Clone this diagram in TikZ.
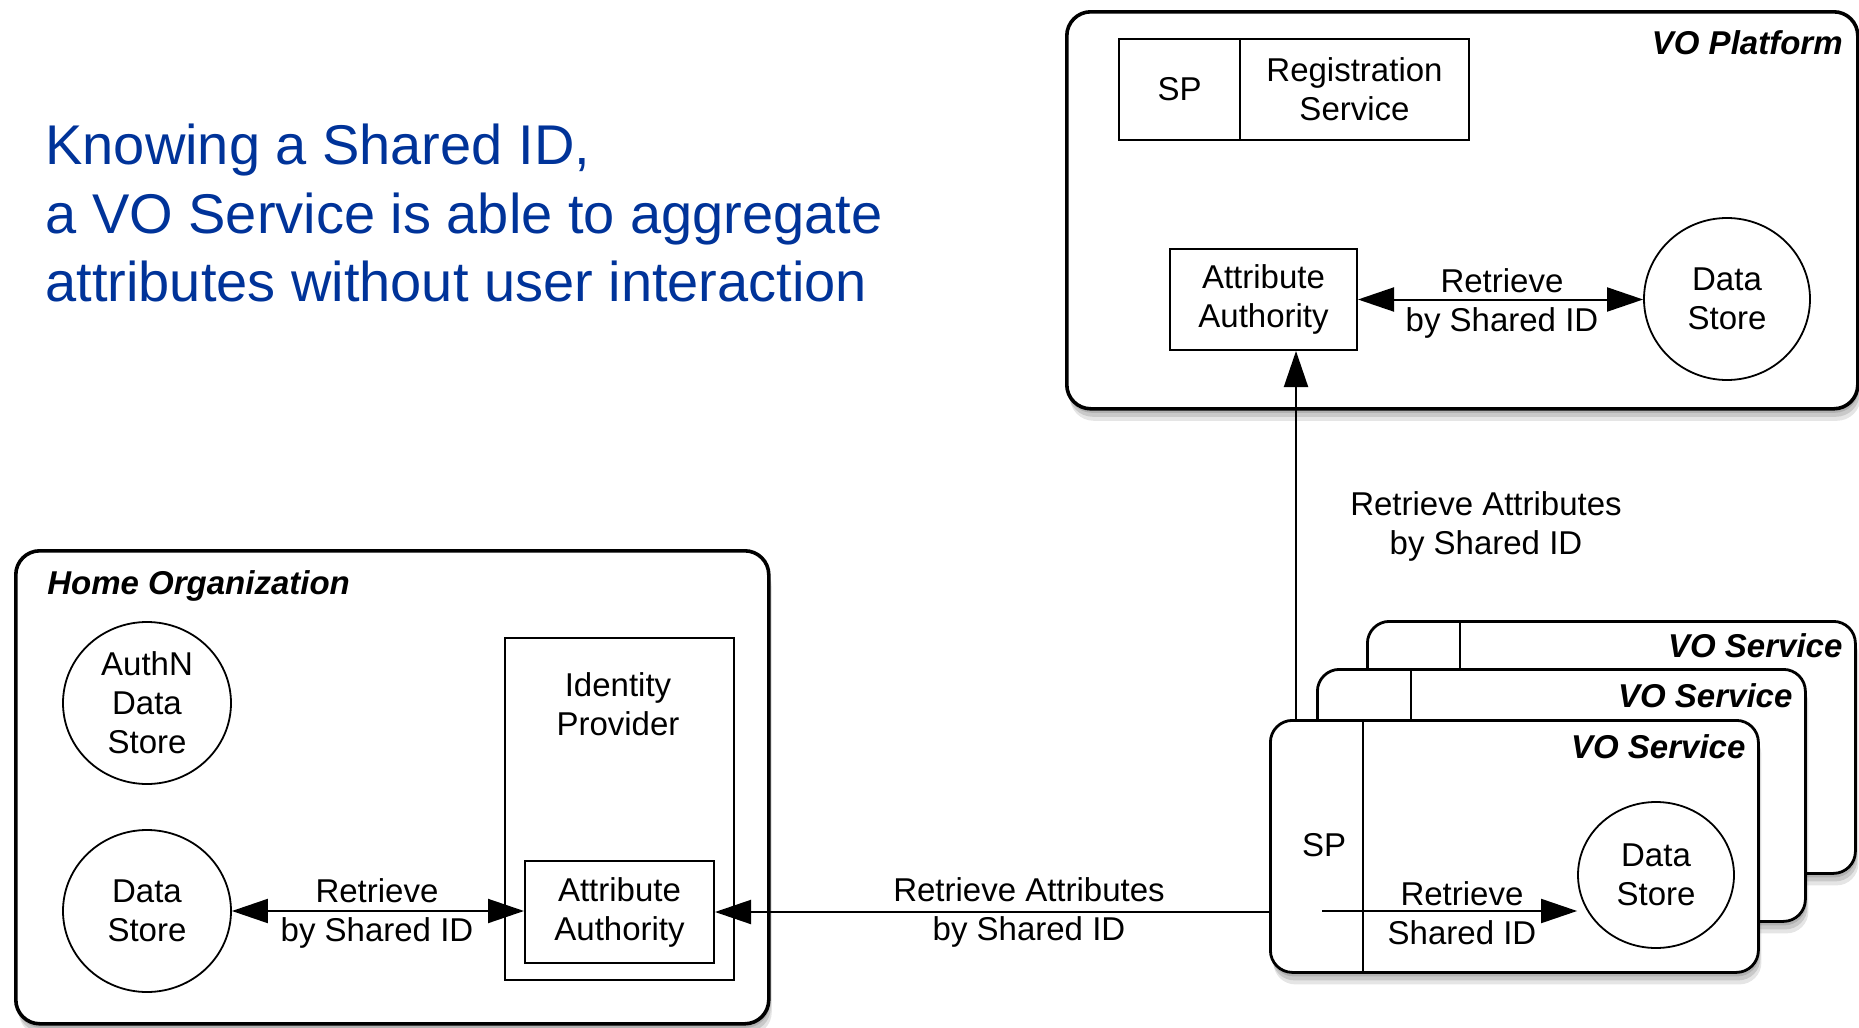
\documentclass[tikz,border=0pt]{standalone}
\usepackage{fontspec}
\setmainfont{Liberation Sans}
\usetikzlibrary{arrows.meta,shapes.geometric,shadows}
\definecolor{titleblue}{RGB}{0,51,153}
\begin{document}
\begin{tikzpicture}[x=0.5pt,y=-0.5pt,
  font=\fontsize{16.5}{19.5}\selectfont,
  softshadow/.style={
    drop shadow={shadow xshift=0.5pt,shadow yshift=-2pt,opacity=0.12,fill=black},
    drop shadow={shadow xshift=1pt,shadow yshift=-4pt,opacity=0.12,fill=black},
    drop shadow={shadow xshift=1.5pt,shadow yshift=-6pt,opacity=0.10,fill=black}},
  bigbox/.style={draw,line width=1.8pt,rounded corners=12pt,fill=white,softshadow,inner sep=0,anchor=north west},
  svcbox/.style={draw,line width=1.4pt,rounded corners=11pt,fill=white,softshadow,inner sep=0,anchor=north west,minimum width=244pt,minimum height=126pt},
  plain/.style={draw,line width=1pt,inner sep=0,anchor=north west,fill=white,align=center},
  store/.style={draw,ellipse,line width=0.9pt,inner sep=0,align=center,fill=white},
  txt/.style={align=center,inner sep=0},
  lbl/.style={font=\fontsize{16.5}{19.5}\selectfont\bfseries\itshape,inner sep=0},
  divider/.style={line width=1pt},
  arr/.style={line width=1pt,-{Triangle[length=18pt,width=12pt]}},
  darr/.style={line width=1pt,{Triangle[length=18pt,width=12pt]}-{Triangle[length=18pt,width=12pt]}},
  ttl/.style={font=\fontsize{28}{34}\selectfont,text=titleblue,anchor=base west,inner sep=0}
]
\useasboundingbox (0,0) rectangle (1859,1028);

% title
\node[ttl] (t1) at (45,164) {Knowing a Shared ID,};
\node[ttl] (t2) at (45,233) {a VO Service is able to aggregate};
\node[ttl] (t3) at (45,301) {attributes without user interaction};

% VO Platform
\node[bigbox,minimum width=395.5pt,minimum height=198.5pt] (plat) at (1065,10) {};
\node[lbl,anchor=east] (platlbl) at (1843,43) {VO Platform};
\node[plain,minimum width=60.5pt,minimum height=50.5pt] (psp) at (1118,38) {SP};
\node[plain,minimum width=114.5pt,minimum height=50.5pt] (preg) at (1239,38) {Registration\\Service};
\node[plain,minimum width=93.5pt,minimum height=50.5pt] (paa) at (1169,248) {Attribute\\Authority};
\node[store,minimum width=83pt,minimum height=81pt] (pds) at (1727,299) {Data\\Store};
\draw[darr] (paa.east) -- (paa.east -| pds.west);
\node[txt] (plab) at (1502,303) {Retrieve\\by Shared ID};

% Home Organization
\node[bigbox,minimum width=376.5pt,minimum height=236.5pt] (home) at (14,549) {};
\node[lbl,anchor=west] (homelbl) at (47,586) {Home Organization};
\node[store,minimum width=84pt,minimum height=81pt] (authn) at (147,703) {AuthN\\Data\\Store};
\node[store,minimum width=84pt,minimum height=81pt] (hds) at (147,911) {Data\\Store};
\node[plain,minimum width=114.5pt,minimum height=171pt] (idp) at (504,637) {};
\node[txt] (idptxt) at (618,704) {Identity\\Provider};
\node[plain,minimum width=94.5pt,minimum height=51pt] (haa) at (524,860) {Attribute\\Authority};
\draw[darr] (hds.east) -- (hds.east -| haa.west);
\node[txt] (hlab) at (377,913) {Retrieve\\by Shared ID};

% VO Services
\node[svcbox] (back) at (1366,620) {};
\draw[divider] ([xshift=47pt]back.north west) -- ([xshift=47pt]back.south west);
\node[lbl,anchor=east] (backlbl) at ([xshift=-7pt,yshift=-13pt]back.north east) {VO Service};

\node[svcbox] (mid) at (1316,668) {};
\draw[divider] ([xshift=47.5pt]mid.north west) -- ([xshift=47.5pt]mid.south west);
\node[lbl,anchor=east] (midlbl) at ([xshift=-7pt,yshift=-14pt]mid.north east) {VO Service};

\node[svcbox] (front) at (1269,719) {};
\draw[divider] ([xshift=47pt]front.north west) -- ([xshift=47pt]front.south west);
\node[lbl,anchor=east] (frontlbl) at ([xshift=-7pt,yshift=-14pt]front.north east) {VO Service};
\node[txt] (fsp) at (1324,845) {SP};
\node[store,minimum width=78pt,minimum height=73pt] (fds) at (1656,875) {Data\\Store};
\coordinate (fst) at (1322,911);
\draw[arr] (fst) -- (fst -| fds.west);
\node[txt] (flab) at (1462,913) {Retrieve\\Shared ID};

% long connectors
\draw[arr] (haa.east -| front.west) -- (haa.east);
\node[txt] (llab) at (1029,912) {Retrieve Attributes\\by Shared ID};

\coordinate (vx) at (1296,0);
\draw[arr] (front.north -| vx) -- (paa.south -| vx);
\node[txt] (vlab) at (1486,526) {Retrieve Attributes\\by Shared ID};
\end{tikzpicture}
\end{document}
